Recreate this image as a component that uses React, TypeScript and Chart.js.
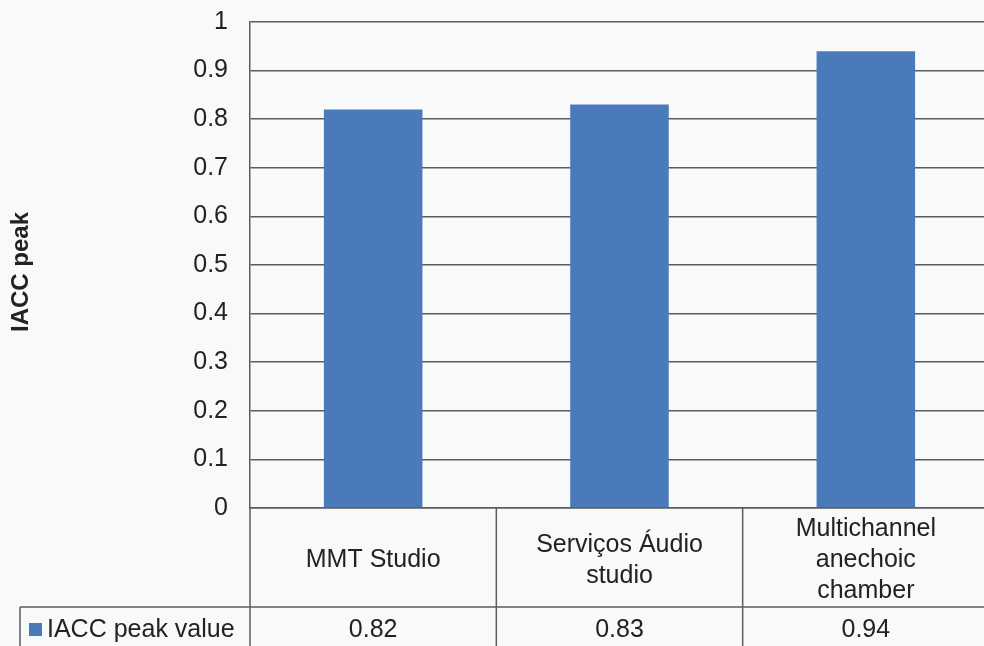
import React, { useEffect, useRef } from 'react';
import { Chart, registerables } from 'chart.js';

Chart.register(...registerables);

const categories: string[][] = [
  ['MMT Studio'],
  ['Serviços Áudio', 'studio'],
  ['Multichannel', 'anechoic', 'chamber'],
];
const seriesName = 'IACC peak value';
const values: number[] = [0.82, 0.83, 0.94];
const valueLabels: string[] = ['0.82', '0.83', '0.94'];
const yTitle = 'IACC peak';
const yMin = 0;
const yMax = 1;
const yStep = 0.1;

const FONT = '"Liberation Sans", Arial, sans-serif';
const TEXT = '#222222';
const LINE = '#5c5c5c';
const BAR = '#4a7aba';
const BG = '#f8f9fb';

const tablePlugin = {
  id: 'dataTable',
  beforeDraw(chart: any) {
    const { ctx, width, height } = chart;
    ctx.save();
    ctx.fillStyle = BG;
    ctx.fillRect(0, 0, width, height);
    ctx.restore();
  },
  afterDraw(chart: any) {
    const { ctx, chartArea } = chart;
    const xs = chart.scales.x;
    const n = categories.length;
    const left = chartArea.left;
    const right = chartArea.right;
    const top = chartArea.bottom;
    const catW = (right - left) / n;
    const rowSplit = top + 99;
    const tableBottom = chart.height + 2;
    const legendLeft = 20;

    ctx.save();
    ctx.strokeStyle = LINE;
    ctx.lineWidth = 1.5;
    ctx.beginPath();
    ctx.moveTo(legendLeft, rowSplit);
    ctx.lineTo(right, rowSplit);
    ctx.moveTo(left, top);
    ctx.lineTo(left, tableBottom);
    ctx.moveTo(legendLeft, rowSplit);
    ctx.lineTo(legendLeft, tableBottom);
    for (let i = 0; i <= n; i++) {
      const bx = i < n ? xs.getPixelForValue(i) - catW / 2 : xs.getPixelForValue(n - 1) + catW / 2;
      ctx.moveTo(bx, top);
      ctx.lineTo(bx, tableBottom);
    }
    ctx.stroke();

    ctx.fillStyle = TEXT;
    ctx.font = `25px ${FONT}`;
    ctx.textAlign = 'center';
    ctx.textBaseline = 'middle';
    const lineH = 31;
    const rowMid = (top + rowSplit) / 2 + 3;
    categories.forEach((lines, i) => {
      const cx = xs.getPixelForValue(i);
      const start = rowMid - ((lines.length - 1) * lineH) / 2;
      lines.forEach((l, j) => ctx.fillText(l, cx, start + j * lineH));
    });
    const valMid = rowSplit + 23;
    valueLabels.forEach((v, i) => {
      ctx.fillText(v, xs.getPixelForValue(i), valMid);
    });

    ctx.fillStyle = BAR;
    ctx.fillRect(29, valMid - 7, 13, 13);
    ctx.fillStyle = TEXT;
    ctx.textAlign = 'left';
    ctx.fillText(seriesName, 47, valMid);

    ctx.translate(21, 272);
    ctx.rotate(-Math.PI / 2);
    ctx.font = `bold 24px ${FONT}`;
    ctx.textAlign = 'center';
    ctx.fillText(yTitle, 0, 0);
    ctx.restore();
  },
};

export default function App() {
  const ref = useRef<HTMLCanvasElement | null>(null);
  useEffect(() => {
    if (!ref.current) return;
    const chart = new Chart(ref.current, {
      type: 'bar',
      data: {
        labels: categories.map((c) => c.join(' ')),
        datasets: [
          {
            label: seriesName,
            data: values,
            backgroundColor: BAR,
            borderWidth: 0,
            categoryPercentage: 1,
            barPercentage: 0.4,
          },
        ],
      },
      options: {
        animation: false,
        responsive: true,
        maintainAspectRatio: false,
        layout: { padding: { top: 22, right: 0, left: 0, bottom: 0 } },
        plugins: { legend: { display: false }, tooltip: { enabled: false } },
        scales: {
          x: {
            grid: { display: false, drawTicks: false },
            border: { display: true, color: LINE, width: 1.5 },
            ticks: { display: false },
            afterFit: (s: any) => {
              s.height = 138;
              s.paddingLeft = 0;
              s.paddingRight = 0;
            },
          },
          y: {
            min: yMin,
            max: yMax,
            grid: { color: LINE, lineWidth: 1.5, drawTicks: false },
            border: { display: true, color: LINE, width: 1.5 },
            ticks: {
              stepSize: yStep,
              padding: 22,
              color: TEXT,
              font: { family: FONT, size: 25 },
              callback: (v: any) => String(Math.round(Number(v) * 10) / 10),
            },
            afterFit: (s: any) => {
              s.width = 250;
              s.paddingTop = 0;
              s.paddingBottom = 0;
            },
          },
        },
      },
      plugins: [tablePlugin],
    });
    return () => chart.destroy();
  }, []);
  return (
    <div style={{ position: 'fixed', left: 0, top: 0, width: 984, height: 646, overflow: 'hidden' }}>
      <div style={{ position: 'relative', width: 989, height: 646 }}>
        <canvas ref={ref} />
      </div>
    </div>
  );
}
